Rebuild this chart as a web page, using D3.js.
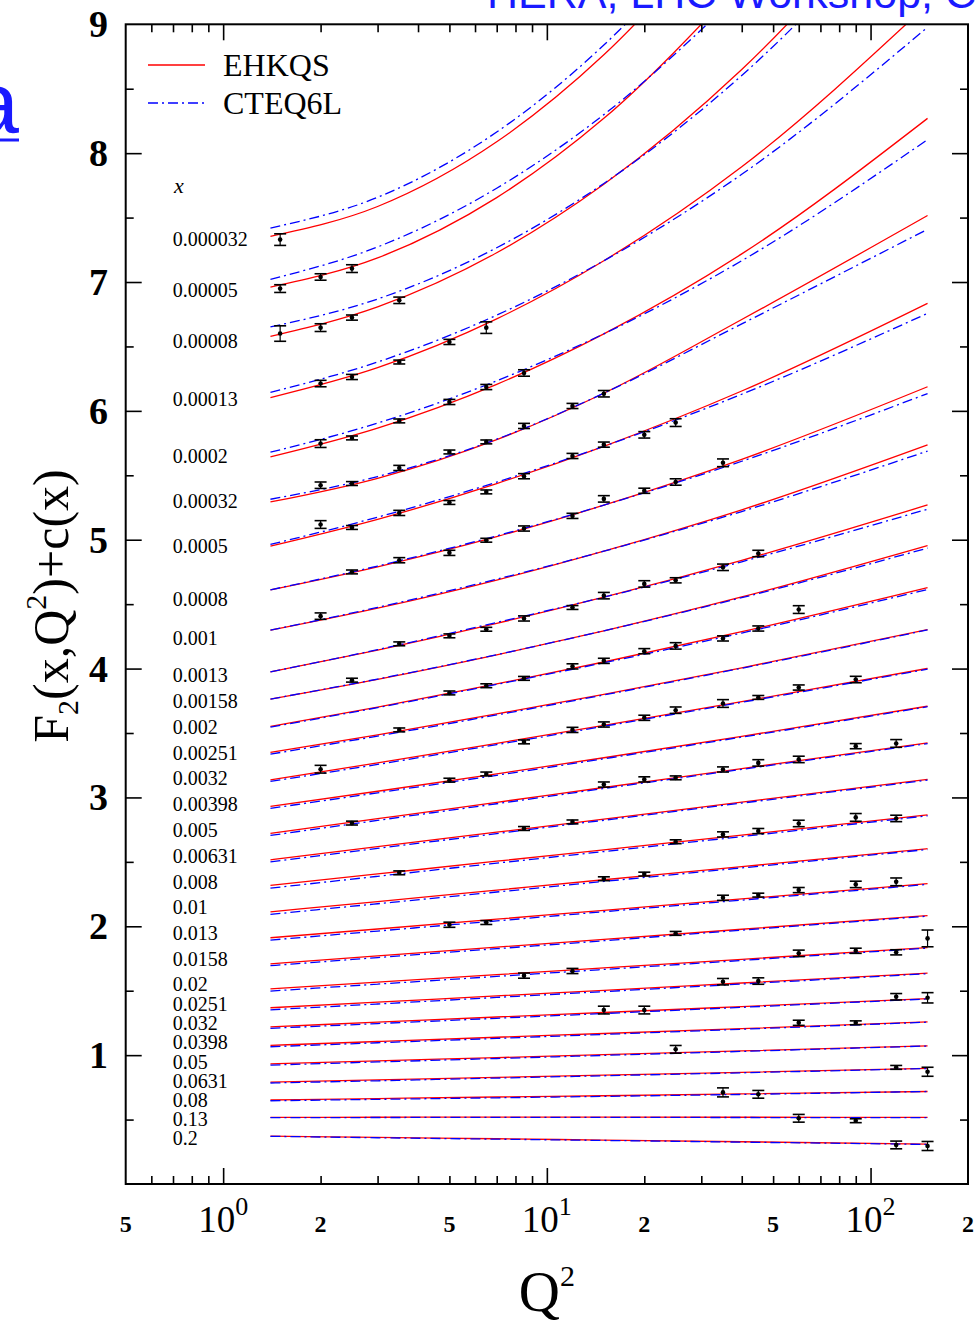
<!DOCTYPE html>
<html lang="en">
<head>
  <meta charset="UTF-8">
  <title>F2 vs Q2</title>
  <style>
    body { margin: 0; background: #fff; }
    svg { display: block; }
    text { font-family: "Liberation Serif", "Times New Roman", serif; fill: #000; }
    .tick line { stroke: #000; stroke-width: 1.6; }
    .domain { display: none; }
  </style>
</head>
<body>
<script src="https://cdn.jsdelivr.net/npm/d3@7"></script>
<script>
  // x bins (one curve pair per bin) and where their labels sit, in F2 units
  const xBins = ['0.000032', '0.00005', '0.00008', '0.00013', '0.0002', '0.00032', '0.0005', '0.0008',
    '0.001', '0.0013', '0.00158', '0.002', '0.00251', '0.0032', '0.00398', '0.005', '0.00631', '0.008',
    '0.01', '0.013', '0.0158', '0.02', '0.0251', '0.032', '0.0398', '0.05', '0.0631', '0.08', '0.13', '0.2']
  const binLabelAt = [7.337, 6.936, 6.542, 6.095, 5.648, 5.301, 4.950, 4.538, 4.241, 3.949, 3.747, 3.543,
    3.346, 3.147, 2.948, 2.746, 2.545, 2.345, 2.147, 1.945, 1.743, 1.552, 1.396, 1.251, 1.104, 0.949,
    0.801, 0.652, 0.502, 0.355]

  // Q2 values at which the curves were read
  const q2Grid = [1.4, 3, 7, 15, 40, 150]

  const ehkqs = [
    [7.355, 7.586, 8.088, 8.763, 9.939, null],
    [6.961, 7.187, 7.655, 8.270, 9.331, null],
    [6.579, 6.807, 7.227, 7.758, 8.649, 10.23],
    [6.103, 6.335, 6.714, 7.165, 7.894, 9.155],
    [5.643, 5.866, 6.206, 6.598, 7.218, 8.270],
    [5.293, 5.477, 5.777, 6.137, 6.709, 7.516],
    [4.950, 5.158, 5.436, 5.725, 6.154, 6.834],
    [4.611, 4.790, 5.024, 5.268, 5.624, 6.187],
    [4.298, 4.469, 4.687, 4.911, 5.232, 5.736],
    [3.974, 4.144, 4.351, 4.554, 4.840, 5.270],
    [3.763, 3.916, 4.106, 4.293, 4.556, 4.955],
    [3.551, 3.701, 3.881, 4.051, 4.286, 4.629],
    [3.349, 3.486, 3.648, 3.800, 4.006, 4.303],
    [3.137, 3.268, 3.420, 3.559, 3.743, 4.001],
    [2.930, 3.048, 3.183, 3.308, 3.474, 3.708],
    [2.721, 2.835, 2.962, 3.077, 3.224, 3.424],
    [2.516, 2.618, 2.730, 2.832, 2.963, 3.140],
    [2.317, 2.406, 2.505, 2.593, 2.707, 2.865],
    [2.112, 2.192, 2.281, 2.361, 2.463, 2.602],
    [1.911, 1.979, 2.055, 2.124, 2.212, 2.331],
    [1.709, 1.770, 1.838, 1.898, 1.977, 2.083],
    [1.515, 1.567, 1.625, 1.677, 1.744, 1.835],
    [1.368, 1.411, 1.460, 1.503, 1.560, 1.636],
    [1.220, 1.256, 1.296, 1.331, 1.377, 1.439],
    [1.076, 1.106, 1.139, 1.168, 1.206, 1.258],
    [0.933, 0.956, 0.981, 1.004, 1.033, 1.072],
    [0.791, 0.808, 0.828, 0.845, 0.867, 0.897],
    [0.652, 0.663, 0.675, 0.685, 0.699, 0.718],
    [0.517, 0.518, 0.519, 0.519, 0.518, 0.517],
    [0.372, 0.362, 0.351, 0.341, 0.328, 0.310]
  ]

  const cteq6l = [
    [7.419, 7.657, 8.164, 8.839, 10.01, null],
    [7.021, 7.272, 7.728, 8.299, 9.255, null],
    [6.651, 6.868, 7.266, 7.765, 8.603, 10.09],
    [6.144, 6.379, 6.743, 7.165, 7.836, 8.977],
    [5.679, 5.905, 6.233, 6.598, 7.165, 8.105],
    [5.314, 5.490, 5.780, 6.137, 6.675, 7.409],
    [4.963, 5.175, 5.447, 5.725, 6.129, 6.757],
    [4.611, 4.796, 5.030, 5.268, 5.609, 6.134],
    [4.298, 4.475, 4.694, 4.911, 5.219, 5.688],
    [3.974, 4.147, 4.358, 4.554, 4.829, 5.237],
    [3.763, 3.919, 4.108, 4.293, 4.550, 4.935],
    [3.546, 3.697, 3.877, 4.045, 4.276, 4.614],
    [3.336, 3.476, 3.640, 3.795, 4.003, 4.300],
    [3.124, 3.256, 3.410, 3.552, 3.738, 3.995],
    [2.915, 3.036, 3.172, 3.300, 3.468, 3.704],
    [2.705, 2.822, 2.951, 3.069, 3.218, 3.418],
    [2.500, 2.605, 2.719, 2.823, 2.956, 3.134],
    [2.296, 2.388, 2.490, 2.580, 2.696, 2.858],
    [2.092, 2.175, 2.266, 2.348, 2.453, 2.596],
    [1.893, 1.963, 2.042, 2.113, 2.203, 2.325],
    [1.694, 1.757, 1.826, 1.888, 1.970, 2.079],
    [1.497, 1.551, 1.611, 1.665, 1.735, 1.831],
    [1.352, 1.397, 1.448, 1.493, 1.552, 1.632],
    [1.208, 1.245, 1.286, 1.323, 1.371, 1.436],
    [1.065, 1.096, 1.130, 1.161, 1.201, 1.256],
    [0.923, 0.947, 0.974, 0.998, 1.029, 1.071],
    [0.784, 0.801, 0.822, 0.840, 0.863, 0.896],
    [0.646, 0.657, 0.669, 0.680, 0.695, 0.718],
    [0.515, 0.516, 0.517, 0.517, 0.516, 0.515],
    [0.370, 0.359, 0.348, 0.338, 0.325, 0.307]
  ]

  // measured points: Q2, F2+c, error
  const pointQ2 = [
    1.5,
    1.5, 2, 2.5,
    1.5, 2, 2.5, 3.5,
    2, 2.5, 3.5, 5, 6.5,
    2, 2.5, 3.5, 5, 6.5, 8.5,
    2, 2.5, 3.5, 5, 6.5, 8.5, 12, 15,
    2, 2.5, 3.5, 5, 6.5, 8.5, 12, 15, 20, 25,
    2.5, 3.5, 5, 6.5, 8.5, 12, 15, 20, 25, 35,
    2,
    3.5, 5, 6.5, 8.5, 12, 15, 20, 25, 35, 45,
    2.5,
    5, 6.5, 8.5, 12, 15, 20, 25, 35, 45, 60,
    3.5,
    2, 8.5, 12, 15, 20, 25, 35, 45, 60, 90,
    5, 6.5,
    2.5, 15, 20, 25, 35, 45, 60, 90, 120,
    8.5, 12,
    3.5, 25, 35, 45, 60, 90, 120,
    15, 20,
    5, 6.5, 35, 45, 60, 90, 120,
    25,
    8.5, 12, 60, 90, 120, 150,
    35, 45,
    15, 20, 120, 150,
    60, 90,
    25,
    120, 150,
    35, 45,
    60, 90,
    120, 150
  ]
  const pointF2 = [
    7.329,
    6.949, 7.039, 7.104,
    6.600, 6.646, 6.724, 6.858,
    6.212, 6.263, 6.379, 6.535, 6.646,
    5.746, 5.790, 5.922, 6.069, 6.185, 6.294,
    5.423, 5.436, 5.557, 5.681, 5.759, 5.883, 6.038, 6.133,
    5.118, 5.095, 5.208, 5.289, 5.371, 5.493, 5.650, 5.738, 5.814, 5.909,
    4.750, 4.841, 4.898, 4.996, 5.087, 5.185, 5.317, 5.380, 5.448, 5.597,
    4.407,
    4.192, 4.254, 4.305, 4.389, 4.474, 4.566, 4.657, 4.685, 4.786, 4.893,
    3.910,
    3.811, 3.867, 3.924, 4.017, 4.060, 4.135, 4.176, 4.234, 4.311, 4.458,
    3.524,
    3.219, 3.431, 3.524, 3.566, 3.618, 3.677, 3.729, 3.776, 3.853, 3.915,
    3.134, 3.182,
    2.801, 3.100, 3.140, 3.152, 3.217, 3.268, 3.295, 3.398, 3.419,
    2.759, 2.810,
    2.415, 2.656, 2.713, 2.739, 2.798, 2.845, 2.837,
    2.369, 2.405,
    2.012, 2.029, 2.221, 2.242, 2.281, 2.325, 2.345,
    1.945,
    1.617, 1.653, 1.790, 1.810, 1.798, 1.906,
    1.570, 1.575,
    1.350, 1.350, 1.453, 1.445,
    1.251, 1.251,
    1.045,
    0.905, 0.871,
    0.711, 0.696,
    0.510, 0.491,
    0.303, 0.295
  ]
  const pointErr = [
    0.045,
    0.03, 0.025, 0.03,
    0.06, 0.03, 0.02, 0.025,
    0.025, 0.02, 0.015, 0.02, 0.045,
    0.03, 0.015, 0.015, 0.02, 0.02, 0.025,
    0.025, 0.015, 0.02, 0.015, 0.015, 0.02, 0.02, 0.025,
    0.03, 0.015, 0.02, 0.015, 0.015, 0.02, 0.02, 0.02, 0.025, 0.03,
    0.015, 0.02, 0.02, 0.015, 0.02, 0.02, 0.025, 0.02, 0.025, 0.03,
    0.025,
    0.015, 0.015, 0.015, 0.02, 0.015, 0.025, 0.025, 0.02, 0.025, 0.025,
    0.015,
    0.015, 0.015, 0.015, 0.02, 0.02, 0.02, 0.025, 0.02, 0.02, 0.03,
    0.015,
    0.03, 0.015, 0.02, 0.02, 0.02, 0.025, 0.03, 0.015, 0.02, 0.025,
    0.015, 0.015,
    0.015, 0.02, 0.02, 0.015, 0.02, 0.025, 0.025, 0.02, 0.03,
    0.015, 0.015,
    0.015, 0.015, 0.02, 0.02, 0.025, 0.03, 0.025,
    0.015, 0.015,
    0.02, 0.015, 0.02, 0.015, 0.02, 0.025, 0.03,
    0.015,
    0.02, 0.02, 0.025, 0.02, 0.02, 0.065,
    0.025, 0.025,
    0.03, 0.03, 0.025, 0.04,
    0.02, 0.015,
    0.03,
    0.015, 0.035,
    0.035, 0.03,
    0.03, 0.015,
    0.03, 0.035
  ]

  const yTickLabels = [1, 2, 3, 4, 5, 6, 7, 8, 9]
  const yMinor = [0.5, 1.5, 2.5, 3.5, 4.5, 5.5, 6.5, 7.5, 8.5]
  const xMajor = [1, 10, 100]
  const xMinor = [0.6, 0.7, 0.8, 0.9, 2, 3, 4, 5, 6, 7, 8, 9, 20, 30, 40, 50, 60, 70, 80, 90]
  const xDecadeLabels = [[1, '0'], [10, '1'], [100, '2']]
  const xSmallLabels = [[0.5, '5'], [2, '2'], [5, '5'], [20, '2'], [50, '5'], [200, '2']]

  const W = 975, H = 1324
  const plot = { left: 125.7, right: 968, top: 24.3, bottom: 1184 }
  const red = '#ff0000', blue = '#0000ff'

  const svg = d3.select('body').append('svg')
    .attr('width', W)
    .attr('height', H)

  const x = d3.scaleLog().domain([0.5, 200]).range([plot.left, plot.right])
  const y = d3.scaleLinear().domain([0, 9]).range([plot.bottom, plot.top])

  // slide leftovers around the figure
  svg.append('text')
    .attr('x', 487).attr('y', 8)
    .style('font-family', '"Liberation Sans", Arial, sans-serif')
    .style('font-size', '43px')
    .style('fill', '#1a1aff')
    .text('HERA, LHC Workshop, CERN')
  svg.append('text')
    .attr('x', -30).attr('y', 133)
    .style('font-family', '"Liberation Sans", Arial, sans-serif')
    .style('font-size', '88px')
    .style('fill', '#1a1aff')
    .text('a')
  svg.append('line')
    .attr('x1', 0).attr('x2', 19).attr('y1', 140).attr('y2', 140)
    .attr('stroke', '#1a1aff').attr('stroke-width', 3)

  svg.append('clipPath').attr('id', 'clip')
    .append('rect')
    .attr('x', plot.left).attr('y', plot.top)
    .attr('width', plot.right - plot.left)
    .attr('height', plot.bottom - plot.top)

  const line = d3.line()
    .defined(d => d[1] != null)
    .x(d => x(d[0]))
    .y(d => y(d[1]))
    .curve(d3.curveMonotoneX)

  const curves = svg.append('g').attr('clip-path', 'url(#clip)')

  // red first, blue dash-dot over it
  ehkqs.forEach(vals => {
    curves.append('path')
      .datum(q2Grid.map((q, j) => [q, vals[j]]))
      .attr('d', line)
      .attr('fill', 'none')
      .attr('stroke', red)
      .attr('stroke-width', 1.3)
  })
  cteq6l.forEach(vals => {
    curves.append('path')
      .datum(q2Grid.map((q, j) => [q, vals[j]]))
      .attr('d', line)
      .attr('fill', 'none')
      .attr('stroke', blue)
      .attr('stroke-width', 1.3)
      .attr('stroke-dasharray', '10,4,2,4')
  })

  // data points with error bars
  const pts = pointQ2.map((q, i) => ({ q: q, f: pointF2[i], e: pointErr[i] }))
  const pg = svg.append('g').selectAll('g').data(pts).enter().append('g')
  pg.append('line')
    .attr('x1', d => x(d.q)).attr('x2', d => x(d.q))
    .attr('y1', d => y(d.f - d.e)).attr('y2', d => y(d.f + d.e))
    .attr('stroke', '#000').attr('stroke-width', 1.2)
  pg.append('line')
    .attr('x1', d => x(d.q) - 6).attr('x2', d => x(d.q) + 6)
    .attr('y1', d => y(d.f - d.e)).attr('y2', d => y(d.f - d.e))
    .attr('stroke', '#000').attr('stroke-width', 1.6)
  pg.append('line')
    .attr('x1', d => x(d.q) - 6).attr('x2', d => x(d.q) + 6)
    .attr('y1', d => y(d.f + d.e)).attr('y2', d => y(d.f + d.e))
    .attr('stroke', '#000').attr('stroke-width', 1.6)
  pg.append('circle')
    .attr('cx', d => x(d.q)).attr('cy', d => y(d.f))
    .attr('r', 2.3).attr('fill', '#000')

  // frame and inward ticks
  svg.append('rect')
    .attr('x', plot.left).attr('y', plot.top)
    .attr('width', plot.right - plot.left)
    .attr('height', plot.bottom - plot.top)
    .attr('fill', 'none').attr('stroke', '#000').attr('stroke-width', 2)

  svg.append('g').attr('transform', `translate(${plot.left},0)`)
    .call(d3.axisLeft(y).tickValues(d3.range(1, 9)).tickSize(-16).tickFormat(''))
  svg.append('g').attr('transform', `translate(${plot.left},0)`)
    .call(d3.axisLeft(y).tickValues(yMinor).tickSize(-8).tickFormat(''))
  svg.append('g').attr('transform', `translate(${plot.right},0)`)
    .call(d3.axisRight(y).tickValues(d3.range(1, 9)).tickSize(-16).tickFormat(''))
  svg.append('g').attr('transform', `translate(${plot.right},0)`)
    .call(d3.axisRight(y).tickValues(yMinor).tickSize(-8).tickFormat(''))
  svg.append('g').attr('transform', `translate(0,${plot.bottom})`)
    .call(d3.axisBottom(x).tickValues(xMajor).tickSize(-16).tickFormat(''))
  svg.append('g').attr('transform', `translate(0,${plot.bottom})`)
    .call(d3.axisBottom(x).tickValues(xMinor).tickSize(-8).tickFormat(''))
  svg.append('g').attr('transform', `translate(0,${plot.top})`)
    .call(d3.axisTop(x).tickValues(xMajor).tickSize(-16).tickFormat(''))
  svg.append('g').attr('transform', `translate(0,${plot.top})`)
    .call(d3.axisTop(x).tickValues(xMinor).tickSize(-8).tickFormat(''))

  // y tick labels
  svg.append('g').selectAll('text').data(yTickLabels).enter().append('text')
    .attr('x', 108)
    .attr('y', d => y(d) + 13)
    .attr('text-anchor', 'end')
    .style('font-size', '38px')
    .style('font-weight', 'bold')
    .text(d => d)

  // x tick labels
  const dec = svg.append('g').selectAll('text').data(xDecadeLabels).enter().append('text')
    .attr('x', d => x(d[0]))
    .attr('y', 1232)
    .attr('text-anchor', 'middle')
    .style('font-size', '37px')
  dec.append('tspan').text('10')
  dec.append('tspan').attr('dy', -17).style('font-size', '26px').text(d => d[1])

  svg.append('g').selectAll('text').data(xSmallLabels).enter().append('text')
    .attr('x', d => x(d[0]))
    .attr('y', 1232)
    .attr('text-anchor', 'middle')
    .style('font-size', '24px')
    .style('font-weight', 'bold')
    .text(d => d[1])

  // axis titles
  const xt = svg.append('text')
    .attr('x', (plot.left + plot.right) / 2)
    .attr('y', 1311)
    .attr('text-anchor', 'middle')
    .style('font-size', '57px')
  xt.append('tspan').text('Q')
  xt.append('tspan').attr('dy', -25).style('font-size', '30px').text('2')

  const yt = svg.append('text')
    .attr('transform', 'translate(68,606) rotate(-90)')
    .attr('text-anchor', 'middle')
    .style('font-size', '50px')
  yt.append('tspan').text('F')
  yt.append('tspan').attr('dy', 10).style('font-size', '30px').text('2')
  yt.append('tspan').attr('dy', -10).text('(x,Q')
  yt.append('tspan').attr('dy', -22).style('font-size', '30px').text('2')
  yt.append('tspan').attr('dy', 22).text(')+c(x)')

  // bin labels
  svg.append('text')
    .attr('x', 174).attr('y', 193)
    .style('font-size', '22px')
    .style('font-style', 'italic')
    .text('x')
  svg.append('g').selectAll('text').data(xBins).enter().append('text')
    .attr('x', 172.7)
    .attr('y', (d, i) => y(binLabelAt[i]) + 7)
    .style('font-size', '20px')
    .text(d => d)

  // legend
  const legend = [['EHKQS', red, null], ['CTEQ6L', blue, '10,4,2,4']]
  legend.forEach((l, i) => {
    const ly = 65 + i * 38
    svg.append('line')
      .attr('x1', 148).attr('x2', 205).attr('y1', ly).attr('y2', ly)
      .attr('stroke', l[1]).attr('stroke-width', 1.3)
      .attr('stroke-dasharray', l[2])
    svg.append('text')
      .attr('x', 223).attr('y', ly + 11)
      .style('font-size', '32px')
      .text(l[0])
  })
</script>
</body>
</html>
